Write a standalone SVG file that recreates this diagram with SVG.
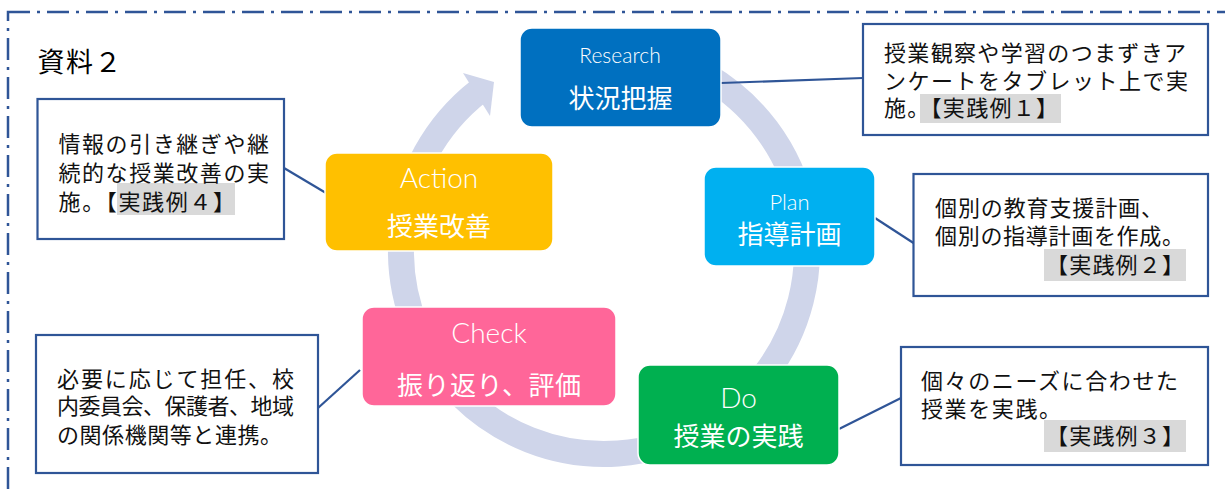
<svg xmlns="http://www.w3.org/2000/svg" width="1225" height="490" viewBox="0 0 1225 490">
  <style>
    .frame{fill:none;stroke:#2F5597;stroke-width:2.5;stroke-dasharray:22 7 3 7}
    .ring{fill:none;stroke:#CFD5EA;stroke-width:26}
    .head{fill:#CFD5EA}
    .node{stroke:#fff;stroke-width:1.5}
    .en{font-family:"Lato","Open Sans","Noto Sans",sans-serif;font-weight:300;fill:#fff;text-anchor:middle}
    .jp{font-family:"Noto Sans CJK JP",sans-serif;fill:#fff;text-anchor:middle;font-size:26px}
    .note{fill:#fff;stroke:#2F5597;stroke-width:2.2}
    .nt{font-family:"Noto Sans CJK JP",sans-serif;font-size:22px;fill:#111}
    .hl{fill:#D9D9D9}
    .link{stroke:#2F5597;stroke-width:2.2;fill:none}
  </style>

  <!-- dash-dot frame running off the page -->
  <rect class="frame" x="8" y="12" width="1240" height="500"/>

  <text x="37.5" y="72" font-family="Noto Sans CJK JP, sans-serif" font-size="27" fill="#000" textLength="84">資料２</text>

  <!-- PDCA cycle ring with arrowhead -->
  <g id="cycle">
    <path class="ring" d="M 705.5 75.2 A 203 203 0 1 1 479 91"/>
    <polygon class="head" points="463,73 494,82 490,116"/>
  </g>

  <g id="connectors">
    <line class="link" x1="721" y1="83" x2="863" y2="78"/>
    <line class="link" x1="875" y1="218" x2="913.5" y2="243"/>
    <line class="link" x1="839" y1="429" x2="901" y2="398"/>
    <line class="link" x1="318" y1="408" x2="360" y2="370"/>
    <line class="link" x1="284" y1="168" x2="326" y2="193"/>
  </g>

  <g id="research">
    <rect class="node" x="520" y="28" width="201" height="99" rx="12" fill="#0070C0"/>
    <text class="en" x="620" y="63" font-size="21">Research</text>
    <text class="jp" x="620.5" y="108">状況把握</text>
  </g>

  <g id="plan">
    <rect class="node" x="704" y="167" width="171" height="99" rx="12" fill="#00B0F0"/>
    <text class="en" x="789.5" y="210" font-size="22">Plan</text>
    <text class="jp" x="789.5" y="244">指導計画</text>
  </g>

  <g id="do">
    <rect class="node" x="638" y="365" width="201" height="100" rx="12" fill="#00B050"/>
    <text class="en" x="738.5" y="408" font-size="28">Do</text>
    <text class="jp" x="738.5" y="446" font-size="27">授業の実践</text>
  </g>

  <g id="check">
    <rect class="node" x="362" y="307" width="254" height="99" rx="12" fill="#FF6699"/>
    <text class="en" x="489" y="343" font-size="28">Check</text>
    <text class="jp" x="489" y="395" textLength="184">振り返り、評価</text>
  </g>

  <g id="action">
    <rect class="node" x="325" y="153" width="228" height="98" rx="12" fill="#FFC000"/>
    <text class="en" x="439" y="188" font-size="28">Action</text>
    <text class="jp" x="439" y="236">授業改善</text>
  </g>

  <g id="note-research">
    <rect class="note" x="863" y="24" width="345" height="111"/>
    <rect class="hl" x="920" y="94" width="141" height="29"/>
    <text class="nt">
      <tspan x="884" y="61" textLength="302">授業観察や学習のつまずきア</tspan>
      <tspan x="884" y="89" textLength="304">ンケートをタブレット上で実</tspan>
      <tspan x="884" y="116" textLength="174">施。【実践例１】</tspan>
    </text>
  </g>

  <g id="note-plan">
    <rect class="note" x="913.5" y="174" width="294.5" height="122"/>
    <rect class="hl" x="1044" y="249" width="142" height="32"/>
    <text class="nt">
      <tspan x="935" y="216" textLength="228">個別の教育支援計画、</tspan>
      <tspan x="935" y="244" textLength="249">個別の指導計画を作成。</tspan>
      <tspan x="1046" y="273" textLength="138">【実践例２】</tspan>
    </text>
  </g>

  <g id="note-do">
    <rect class="note" x="901" y="347" width="307" height="118"/>
    <rect class="hl" x="1044" y="420" width="142" height="32"/>
    <text class="nt">
      <tspan x="921" y="389" textLength="257">個々のニーズに合わせた</tspan>
      <tspan x="921" y="417" textLength="140">授業を実践。</tspan>
      <tspan x="1046" y="444" textLength="138">【実践例３】</tspan>
    </text>
  </g>

  <g id="note-check">
    <rect class="note" x="36" y="335" width="282" height="138"/>
    <text class="nt">
      <tspan x="57" y="387" textLength="237">必要に応じて担任、校</tspan>
      <tspan x="57" y="414" textLength="237">内委員会、保護者、地域</tspan>
      <tspan x="57" y="443" textLength="225">の関係機関等と連携。</tspan>
    </text>
  </g>

  <g id="note-action">
    <rect class="note" x="37.5" y="99" width="246.5" height="140"/>
    <rect class="hl" x="117" y="183" width="118" height="32"/>
    <text class="nt">
      <tspan x="58.5" y="152" textLength="210.5">情報の引き継ぎや継</tspan>
      <tspan x="58.5" y="181" textLength="210.5">続的な授業改善の実</tspan>
      <tspan x="58.5" y="210" textLength="176.5">施。【実践例４】</tspan>
    </text>
  </g>
</svg>
